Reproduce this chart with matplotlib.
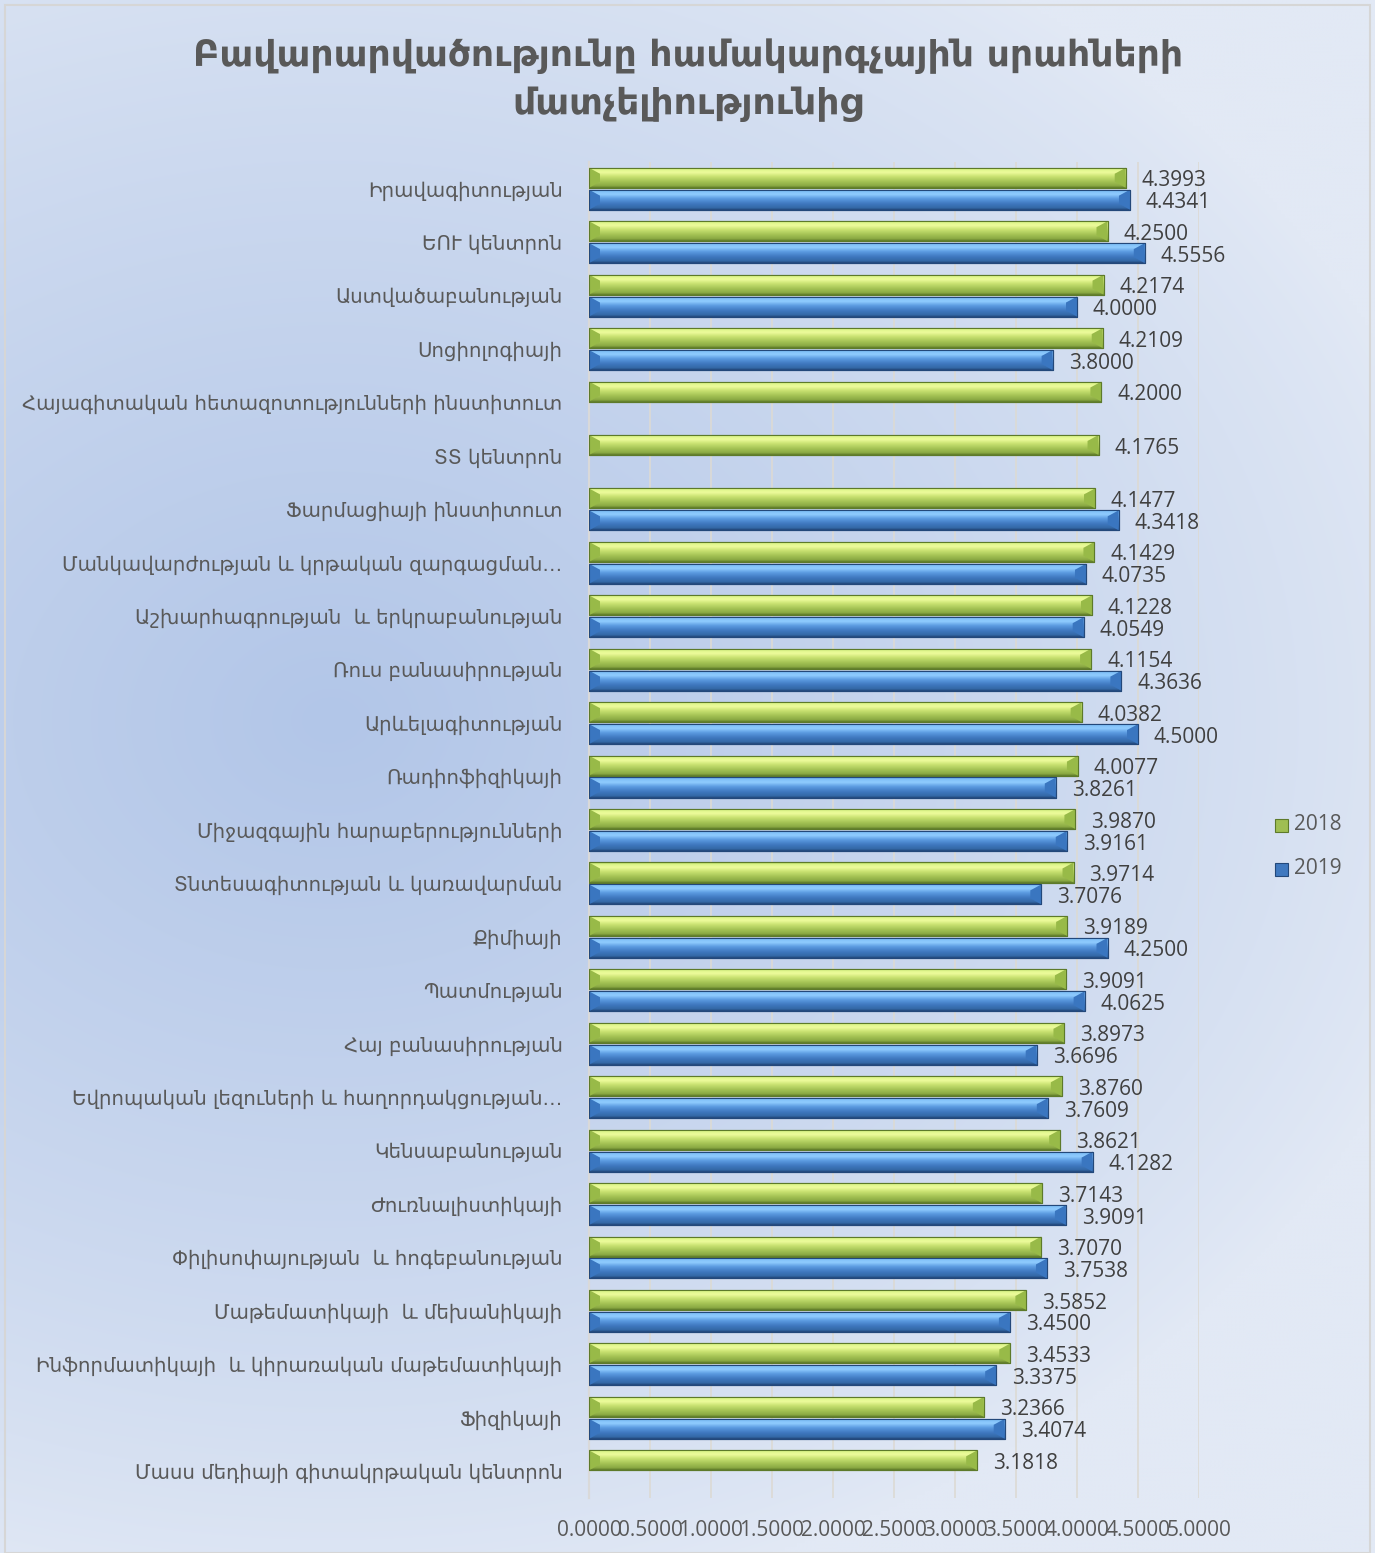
import numpy as np
import matplotlib
matplotlib.use("Agg")
import matplotlib.pyplot as plt
from matplotlib.colors import LinearSegmentedColormap, to_rgb
from matplotlib.patches import Polygon, Rectangle

# ---- data -------------------------------------------------------------
categories = [
    "Իրավագիտության",
    "ԵՈՒ կենտրոն",
    "Աստվածաբանության",
    "Սոցիոլոգիայի",
    "Հայագիտական հետազոտությունների ինստիտուտ",
    "ՏՏ կենտրոն",
    "Ֆարմացիայի ինստիտուտ",
    "Մանկավարժության և կրթական զարգացման…",
    "Աշխարհագրության  և երկրաբանության",
    "Ռուս բանասիրության",
    "Արևելագիտության",
    "Ռադիոֆիզիկայի",
    "Միջազգային հարաբերությունների",
    "Տնտեսագիտության և կառավարման",
    "Քիմիայի",
    "Պատմության",
    "Հայ բանասիրության",
    "Եվրոպական լեզուների և հաղորդակցության…",
    "Կենսաբանության",
    "Ժուռնալիստիկայի",
    "Փիլիսոփայության  և հոգեբանության",
    "Մաթեմատիկայի  և մեխանիկայի",
    "Ինֆորմատիկայի  և կիրառական մաթեմատիկայի",
    "Ֆիզիկայի",
    "Մասս մեդիայի գիտակրթական կենտրոն",
]
values_2018 = [4.3993, 4.2500, 4.2174, 4.2109, 4.2000, 4.1765, 4.1477, 4.1429,
               4.1228, 4.1154, 4.0382, 4.0077, 3.9870, 3.9714, 3.9189, 3.9091,
               3.8973, 3.8760, 3.8621, 3.7143, 3.7070, 3.5852, 3.4533, 3.2366,
               3.1818]
values_2019 = [4.4341, 4.5556, 4.0000, 3.8000, np.nan, np.nan, 4.3418, 4.0735,
               4.0549, 4.3636, 4.5000, 3.8261, 3.9161, 3.7076, 4.2500, 4.0625,
               3.6696, 3.7609, 4.1282, 3.9091, 3.7538, 3.4500, 3.3375, 3.4074,
               np.nan]
series_names = ["2018", "2019"]
x_ticks = [0.0, 0.5, 1.0, 1.5, 2.0, 2.5, 3.0, 3.5, 4.0, 4.5, 5.0]
title = "Բավարարվածությունը համակարգչային սրահների\nմատչելիությունից"

# ---- style --------------------------------------------------------------
W, H = 1375, 1553
ARM = ["DejaVu Sans"]
NUM = ["Open Sans", "DejaVu Sans"]
TEXT_COLOR = "#595959"
VALUE_COLOR = "#404040"

green_stops = ["#9cc84a", "#dcf58a", "#eefc9c", "#c9e272", "#a3c254",
               "#8aa943", "#5d7a2a"]
blue_stops = ["#5a9ee0", "#80c0f8", "#90ccff", "#5c9ce2", "#3f78bf",
              "#3469a8", "#23487a"]
green_face, green_edge, green_facet = "#9fbe52", "#5d7a2a", "#98ba48"
blue_face, blue_edge, blue_facet = "#3f78bf", "#23487a", "#3a76c0"

fig = plt.figure(figsize=(W / 100, H / 100), dpi=100)

# soft blue background wash over the whole canvas
bg = fig.add_axes([0, 0, 1, 1], zorder=-10)
gy, gx = np.mgrid[0:H:4, 0:W:4].astype(float)
d = np.sqrt(((gx - 330) / 1150) ** 2 + ((gy - 720) / 900) ** 2)
t = np.clip(1 - d, 0, 1) ** 0.8
light = np.array(to_rgb("#e2e9f5"))
dark = np.array(to_rgb("#b2c6e8"))
img = light[None, None, :] + (dark - light)[None, None, :] * t[..., None]
bg.imshow(img, extent=(0, W, H, 0), aspect="auto", interpolation="bilinear")
bg.set_xlim(0, W)
bg.set_ylim(H, 0)
bg.axis("off")
bg.add_patch(Rectangle((5, 5), W - 10, H - 5, fill=False,
                       edgecolor="#d6d6d6", linewidth=1.5))

# plot area
left, right, top, bottom = 589, 1199, 162, 1498
ax = fig.add_axes([left / W, 1 - bottom / H, (right - left) / W,
                   (bottom - top) / H])
ax.set_facecolor("none")

n = len(categories)
ypos = np.arange(n)
bar_h = 0.375
off = 0.205

v18 = np.array(values_2018, dtype=float)
v19 = np.array(values_2019, dtype=float)
has19 = ~np.isnan(v19)

bars18 = ax.barh(ypos - off, v18, height=bar_h, color=green_face,
                 edgecolor=green_edge, linewidth=0.8, zorder=3)
bars19 = ax.barh(ypos[has19] + off, v19[has19], height=bar_h, color=blue_face,
                 edgecolor=blue_edge, linewidth=0.8, zorder=3)

g_cmap = LinearSegmentedColormap.from_list(
    "g", list(zip([0, .1, .25, .45, .7, .9, 1], green_stops)))
b_cmap = LinearSegmentedColormap.from_list(
    "b", list(zip([0, .1, .25, .45, .7, .9, 1], blue_stops)))
grad = np.linspace(0, 1, 64)[:, None]

facet_w = 11 / 122.0  # data units along x


def shade(bars, cmap, facet_color):
    for b in bars:
        x0, y0, w, h = b.get_x(), b.get_y(), b.get_width(), b.get_height()
        im = ax.imshow(grad, cmap=cmap, vmin=0, vmax=1, aspect="auto",
                       extent=(x0, x0 + w, y0 + h, y0), origin="upper",
                       interpolation="bilinear", zorder=3.5)
        im.set_clip_path(b)
        bv = h * 0.3
        x1 = x0 + w
        ax.add_patch(Polygon([(x0, y0), (x0 + facet_w, y0 + bv),
                              (x0 + facet_w, y0 + h - bv), (x0, y0 + h)],
                             closed=True, facecolor=facet_color,
                             edgecolor="none", zorder=3.6))
        ax.add_patch(Polygon([(x1, y0), (x1 - facet_w, y0 + bv),
                              (x1 - facet_w, y0 + h - bv), (x1, y0 + h)],
                             closed=True, facecolor=facet_color,
                             edgecolor="none", zorder=3.6))
        ax.add_patch(Rectangle((x0, y0), w, h, fill=False,
                               edgecolor=b.get_edgecolor(), linewidth=0.8,
                               zorder=3.7))


shade(bars18, g_cmap, green_facet)
shade(bars19, b_cmap, blue_facet)

# value labels
for yy, v in zip(ypos - off, v18):
    ax.annotate(f"{v:.4f}", (v, yy), xytext=(11.5, -2.2),
                textcoords="offset points", va="center", ha="left",
                fontsize=15, family=NUM, color=VALUE_COLOR, zorder=5)
for yy, v in zip(ypos[has19] + off, v19[has19]):
    ax.annotate(f"{v:.4f}", (v, yy), xytext=(11.5, -2.2),
                textcoords="offset points", va="center", ha="left",
                fontsize=15, family=NUM, color=VALUE_COLOR, zorder=5)

# axes
ax.set_xlim(0, 5)
ax.set_ylim(n - 0.5, -0.5)
ax.set_xticks(x_ticks)
ax.set_xticklabels([f"{v:.4f}" for v in x_ticks], fontsize=15, family=NUM,
                   color=TEXT_COLOR)
ax.set_yticks(ypos)
ax.set_yticklabels(categories, fontsize=14.2, family=ARM, color=TEXT_COLOR)
ax.tick_params(axis="both", length=0)
ax.tick_params(axis="y", pad=19)
ax.tick_params(axis="x", pad=16)
ax.grid(axis="x", color="#dcdad4", linewidth=1.2, zorder=1)
ax.set_axisbelow(True)
for s in ["top", "right", "bottom"]:
    ax.spines[s].set_visible(False)
ax.spines["left"].set_color("#d9d9d9")
ax.spines["left"].set_linewidth(1.6)

# title
fig.text(688 / W, 1 - 80 / H, title, ha="center", va="center",
         fontsize=26, fontweight="bold", family=ARM, color=TEXT_COLOR,
         linespacing=1.45)

# legend
for name, face, edge, yc in [(series_names[0], green_face, green_edge, 825),
                             (series_names[1], blue_face, blue_edge, 869)]:
    fig.add_artist(Rectangle((1275 / W, 1 - (yc + 7) / H), 13 / W, 13 / H,
                             transform=fig.transFigure, facecolor=face,
                             edgecolor=edge, linewidth=0.8))
    fig.text(1294 / W, 1 - yc / H, name, ha="left", va="center",
             fontsize=15, family=NUM, color=TEXT_COLOR)

fig.savefig("out.png", dpi=100)
